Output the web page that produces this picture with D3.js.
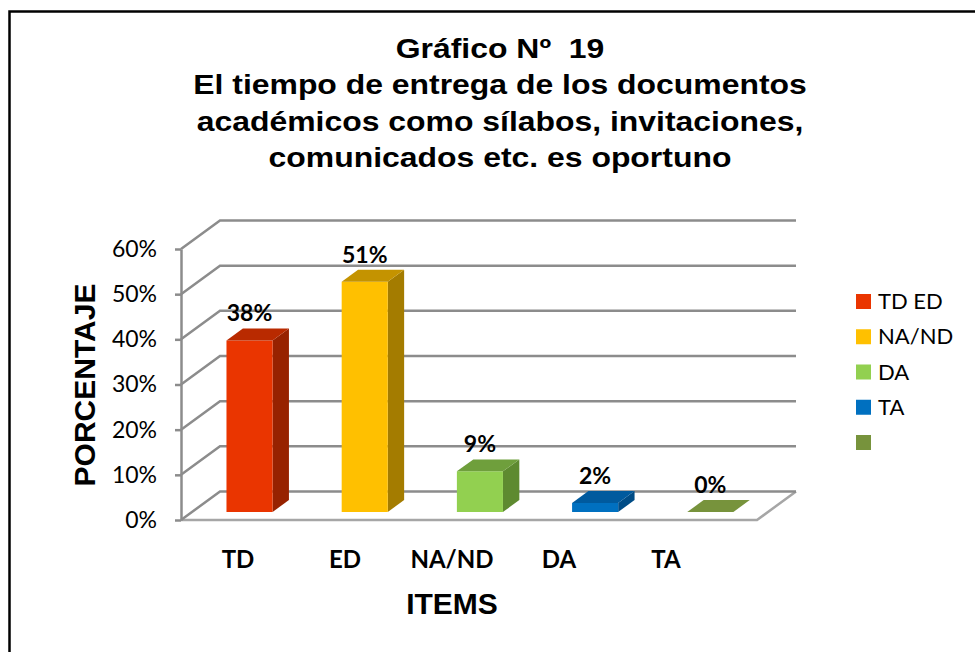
<!DOCTYPE html>
<html>
<head>
<meta charset="utf-8">
<script src="https://cdn.jsdelivr.net/npm/d3@7"></script>
<style>
  body { margin: 0; background: #fff; }
</style>
</head>
<body>
<div id="chart"></div>
<script>
// chart data
var categories = ["TD", "ED", "NA/ND", "DA", "TA"];
var values = [38, 51, 9, 2, 0];
var valueLabels = ["38%", "51%", "9%", "2%", "0%"];
var legendLabels = ["TD ED", "NA/ND", "DA", "TA", ""];
var yTicks = [0, 10, 20, 30, 40, 50, 60];
var titleLines = [
  "Gráfico Nº  19",
  "El tiempo de entrega de los documentos",
  "académicos como sílabos, invitaciones,",
  "comunicados etc. es oportuno"
];

// colours per bar: front, top, side
var fronts = ["#ea3500", "#ffc000", "#92d050", "#0070c0", "#77933c"];
var tops = ["#b92a00", "#c49300", "#6f9f3c", "#005a9e", "#5e7a2e"];
var sides = ["#972200", "#a47c00", "#5e8a30", "#004c86", "#4f6826"];

var svgWidth = 975;
var svgHeight = 652;

var svg = d3.select("#chart")
  .append("svg")
  .attr("width", svgWidth)
  .attr("height", svgHeight);

// outer frame
svg.append("path")
  .attr("d", "M9.5," + svgHeight + " V11.5 H" + svgWidth)
  .attr("fill", "none")
  .attr("stroke", "#000")
  .attr("stroke-width", 2.5);

// title (the original text is a bit stretched sideways)
svg.append("g")
  .attr("transform", "translate(500, 48) scale(1.14, 1)")
  .append("text")
  .attr("x", 0)
  .attr("y", 0)
  .style("font-family", "Liberation Sans, Arial, sans-serif")
  .style("font-weight", "bold")
  .style("font-size", "28px")
  .style("white-space", "pre")
  .attr("text-anchor", "middle")
  .selectAll("tspan")
  .data(titleLines)
  .enter()
  .append("tspan")
  .attr("x", 0)
  .attr("dy", (d, i) => i == 0 ? "0.35em" : 36.5)
  .text(d => d);

// scales for the front plane, depth moves up and right
var yScale = d3.scaleLinear().domain([0, 60]).range([520, 249]);
var xScale = d3.scaleBand().domain(categories).range([181, 757]);
var DX = 39, DY = 28.5;

function proj(x, v, t) {
  return [x + t * DX, yScale(v) - t * DY];
}

var grid = svg.append("g")
  .attr("fill", "none")
  .attr("stroke", "#8c8c8c")
  .attr("stroke-width", 2.5);

// floor
var x0 = xScale.range()[0], x1 = xScale.range()[1];
grid.append("path")
  .attr("d", d3.line()([proj(x0, 0, 0), proj(x1, 0, 0), proj(x1, 0, 1)]))
  .attr("stroke", "#a6a6a6");

// back wall gridlines and side wall diagonals
yTicks.forEach(function(v) {
  grid.append("path")
    .attr("d", d3.line()([proj(x0, v, 0), proj(x0, v, 1), proj(x1, v, 1)]));
});

// front axis
var leftAxis = d3.axisLeft(yScale)
  .tickValues(yTicks)
  .tickFormat(d => d + "%")
  .tickSize(6)
  .tickSizeOuter(0)
  .tickPadding(18);

var axisG = svg.append("g")
  .attr("transform", `translate(${x0}, 0)`)
  .call(leftAxis);
axisG.select(".domain").attr("stroke", "#8c8c8c").attr("stroke-width", 2.5);
axisG.selectAll(".tick line").attr("stroke", "#8c8c8c").attr("stroke-width", 2.5);
axisG.selectAll(".tick text")
  .style("font-family", "Lato, sans-serif")
  .style("font-size", "23px")
  .attr("fill", "#000");

// bars
var bw = xScale.bandwidth() * 0.4;
var off = xScale.bandwidth() * 0.3;
var t0 = 0.28, t1 = 0.70;

var bars = svg.selectAll(".bar")
  .data(values)
  .enter()
  .append("g")
  .attr("class", "bar");

bars.each(function(v, i) {
  var g = d3.select(this);
  var xa = xScale(categories[i]) + off, xb = xa + bw;
  var line = d3.line();
  if (v > 0) {
    g.append("path")
      .attr("d", line([proj(xb, 0, t0), proj(xb, 0, t1), proj(xb, v, t1), proj(xb, v, t0)]) + "Z")
      .attr("fill", sides[i]);
    g.append("path")
      .attr("d", line([proj(xa, 0, t0), proj(xb, 0, t0), proj(xb, v, t0), proj(xa, v, t0)]) + "Z")
      .attr("fill", fronts[i]);
  }
  g.append("path")
    .attr("d", line([proj(xa, v, t0), proj(xb, v, t0), proj(xb, v, t1), proj(xa, v, t1)]) + "Z")
    .attr("fill", v > 0 ? tops[i] : fronts[i]);
});

// value labels
svg.selectAll(".vlabel")
  .data(values)
  .enter()
  .append("text")
  .attr("class", "vlabel")
  .attr("x", (d, i) => proj(xScale(categories[i]) + off + bw / 2, d, t0)[0])
  .attr("y", d => proj(0, d, t1)[1] - 15)
  .attr("dy", "0.35em")
  .attr("text-anchor", "middle")
  .style("font-family", "Lato, sans-serif")
  .style("font-weight", "bold")
  .style("font-size", "23px")
  .text((d, i) => valueLabels[i]);

// category labels
var labelScale = d3.scaleBand().domain(categories).range([184.5, 719.5]);
svg.selectAll(".clabel")
  .data(categories)
  .enter()
  .append("text")
  .attr("class", "clabel")
  .attr("x", d => labelScale(d) + labelScale.bandwidth() / 2)
  .attr("y", 560)
  .attr("dy", "0.35em")
  .attr("text-anchor", "middle")
  .style("font-family", "Lato, sans-serif")
  .style("font-weight", "bold")
  .style("font-size", "24px")
  .text(d => d);

// axis titles
svg.append("text")
  .attr("x", 452)
  .attr("y", 603)
  .attr("dy", "0.35em")
  .attr("text-anchor", "middle")
  .style("font-family", "Liberation Sans, Arial, sans-serif")
  .style("font-weight", "bold")
  .style("font-size", "30px")
  .text("ITEMS");

svg.append("text")
  .attr("transform", "translate(84, 385) rotate(-90)")
  .attr("dy", "0.35em")
  .attr("text-anchor", "middle")
  .style("font-family", "Liberation Sans, Arial, sans-serif")
  .style("font-weight", "bold")
  .style("font-size", "30px")
  .text("PORCENTAJE");

// legend
var legend = svg.selectAll(".legend")
  .data(legendLabels)
  .enter()
  .append("g")
  .attr("class", "legend")
  .attr("transform", (d, i) => `translate(856, ${301.5 + i * 35.25})`);

legend.append("rect")
  .attr("x", 0)
  .attr("y", -7.5)
  .attr("width", 15)
  .attr("height", 15)
  .attr("fill", (d, i) => fronts[i]);

legend.append("text")
  .attr("x", 22)
  .attr("dy", "0.35em")
  .style("font-family", "Lato, sans-serif")
  .style("font-size", "22px")
  .text(d => d);
</script>
</body>
</html>
